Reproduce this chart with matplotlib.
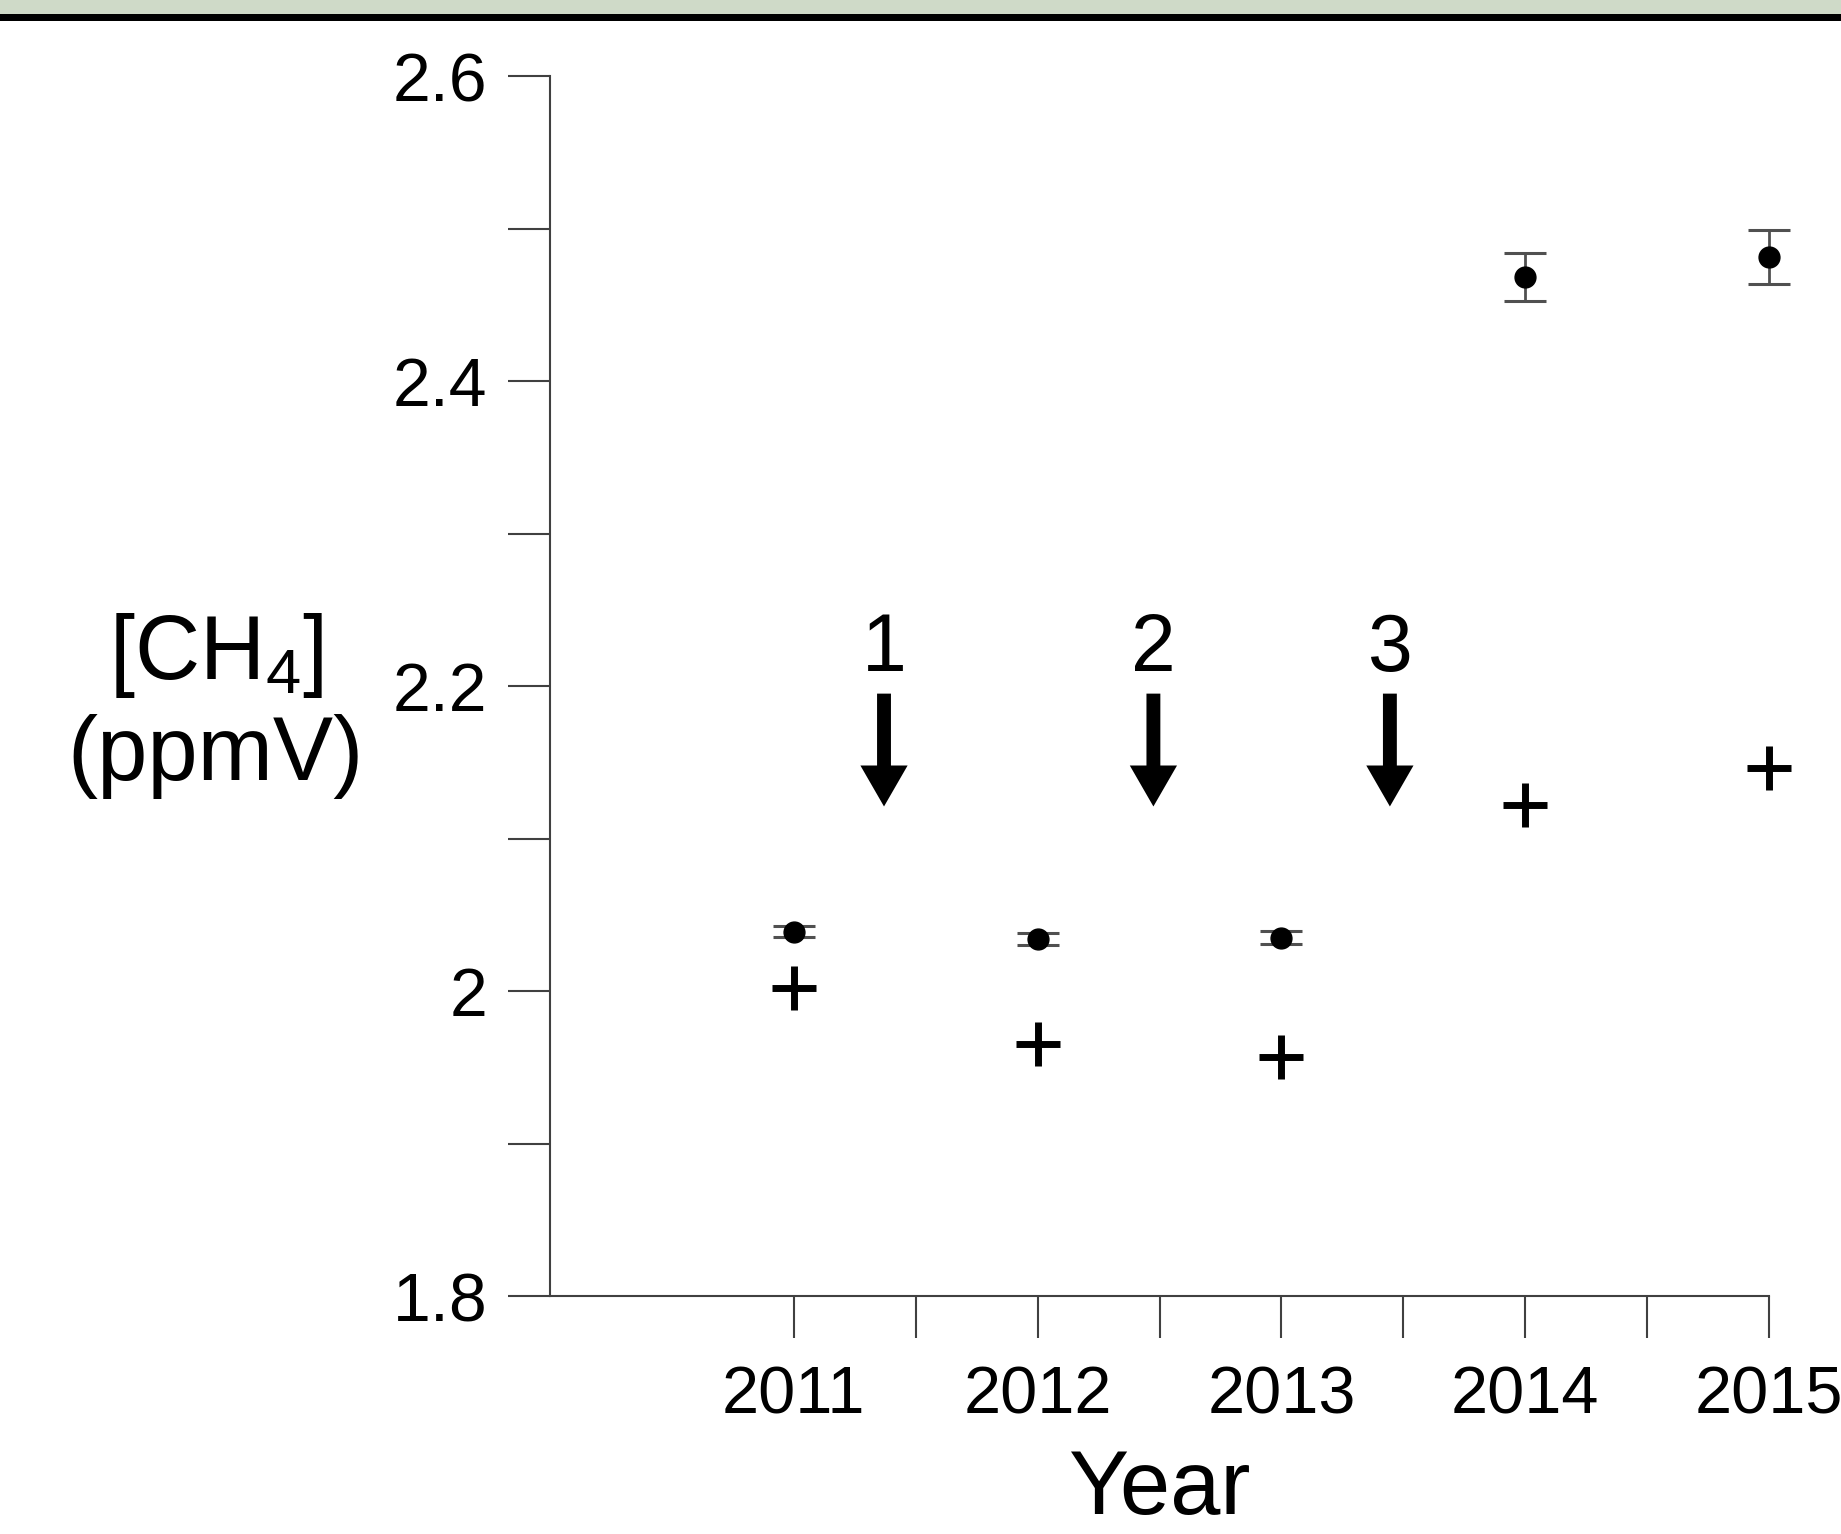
import matplotlib
matplotlib.use("Agg")
import matplotlib.pyplot as plt
from matplotlib.patches import Rectangle

plt.rcParams['font.family'] = ['Liberation Sans', 'DejaVu Sans']
plt.rcParams['mathtext.fontset'] = 'custom'
plt.rcParams['mathtext.rm'] = 'Liberation Sans'
plt.rcParams['mathtext.it'] = 'Liberation Sans'

# measured values (dots with error bars) and the crosses
years = [2011, 2012, 2013, 2014, 2015]
ch4_mean = [2.039, 2.034, 2.035, 2.468, 2.481]
ch4_err = [0.0035, 0.0041, 0.0045, 0.0157, 0.0177]
ch4_cross = [2.002, 1.965, 1.957, 2.122, 2.146]

# arrows marking events
event_x = [2011.37, 2012.475, 2013.445]
event_labels = ["1", "2", "3"]
arrow_top = 2.195
arrow_tip = 2.121
label_y = 2.210

fig = plt.figure(figsize=(18.41, 15.34), dpi=100)

# green header band with black line underneath
fig.patches.append(Rectangle((0, 1 - 14 / 1534), 1, 14 / 1534, transform=fig.transFigure,
                             facecolor='#CFDAC8', edgecolor='none', zorder=0))
fig.patches.append(Rectangle((0, 1 - 21 / 1534), 1, 7 / 1534, transform=fig.transFigure,
                             facecolor='black', edgecolor='none', zorder=0))

ax = fig.add_axes([550 / 1841, 1 - 1296 / 1534, 1219 / 1841, 1220 / 1534])

ax.errorbar(years, ch4_mean, yerr=ch4_err, fmt='o', color='black', markersize=15,
            ecolor='#505050', elinewidth=2, capsize=15, capthick=2.2, clip_on=False, zorder=3)
ax.plot(years, ch4_cross, linestyle='none', marker='+', color='black', markersize=31,
        markeredgewidth=5, clip_on=False, zorder=3)

for x, lab in zip(event_x, event_labels):
    ax.annotate('', xy=(x, arrow_tip), xytext=(x, arrow_top),
                arrowprops=dict(arrowstyle='simple,head_length=29.5,head_width=34,tail_width=10',
                                mutation_scale=1, facecolor='black', edgecolor='none',
                                shrinkA=0, shrinkB=0))
    ax.text(x, label_y, lab, ha='center', va='baseline', fontsize=58)

ax.set_xlim(2010, 2015)
ax.set_ylim(1.8, 2.6)

ax.set_xticks(years)
ax.set_xticklabels([str(y) for y in years])
ax.set_xticks([2011.5, 2012.5, 2013.5, 2014.5], minor=True)
ax.set_yticks([1.8, 2.0, 2.2, 2.4, 2.6])
ax.set_yticklabels(['1.8', '2', '2.2', '2.4', '2.6'])
ax.set_yticks([1.9, 2.1, 2.3, 2.5], minor=True)

for side in ['top', 'right']:
    ax.spines[side].set_visible(False)
for side in ['left', 'bottom']:
    ax.spines[side].set_color('#404040')
    ax.spines[side].set_linewidth(1.5)

ax.tick_params(axis='both', which='both', direction='out', length=30, width=1.5, color='#404040')
ax.tick_params(axis='x', which='major', labelsize=48, pad=20)
ax.tick_params(axis='y', which='major', labelsize=49, pad=15)

ax.set_xlabel('Year', fontsize=65, va='baseline')
ax.xaxis.set_label_coords(0.5, -0.1787)
ax.set_ylabel('[CH$_4$]\n(ppmV)', fontsize=65, rotation=0, ha='center', va='center')
ax.yaxis.set_label_coords(-0.274, 0.4844)

fig.savefig('out.png', dpi=100)
